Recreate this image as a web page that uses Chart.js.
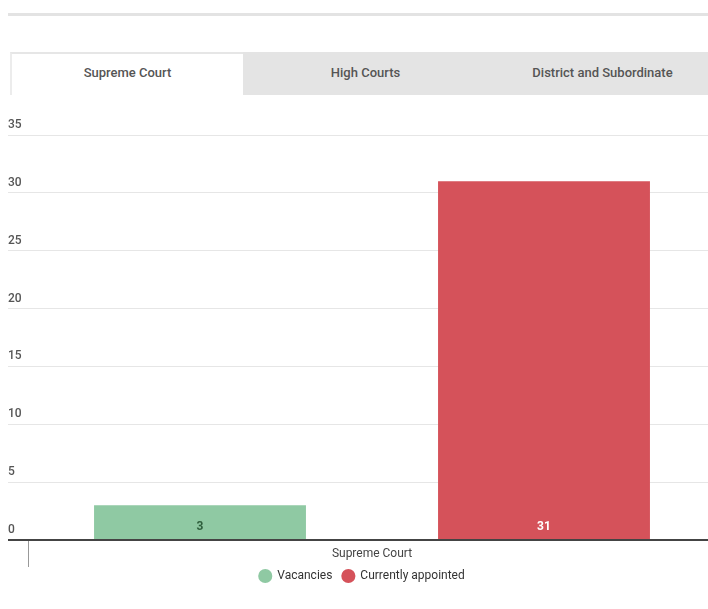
<!DOCTYPE html>
<html>
<head>
<meta charset="utf-8">
<title>Judges: vacancies and appointments</title>
<script src="https://cdn.jsdelivr.net/npm/chart.js@4.4.1/dist/chart.umd.min.js"></script>
<style>
    html, body { margin: 0; padding: 0; background: #fff; overflow: hidden; }
    body { width: 708px; height: 609px; position: relative; font-family: Roboto, "Noto Sans", sans-serif; }
    .rule { position: absolute; top: 13px; left: 8px; right: 0; height: 3px; background: #e3e3e3; }
    .tabs { position: absolute; top: 52px; left: 10px; display: flex; }
    .tab { width: 237px; height: 43px; line-height: 41px; box-sizing: border-box; text-align: center;
           font-size: 13px; font-weight: 500; color: #555; background: #e4e4e4; }
    .tab.active { background: #fff; border-top: 2px solid #e6e6e6; border-left: 2px solid #ececec;
                  width: 233px; line-height: 37px; }
    .tab.second { width: 241px; padding-left: 4px; }
    #chartBox { position: absolute; top: 100px; left: 0; width: 716px; height: 509px; }
</style>
</head>
<body>
<div class="rule"></div>
<div class="tabs">
    <div class="tab active">Supreme Court</div>
    <div class="tab second">High Courts</div>
    <div class="tab">District and Subordinate</div>
</div>
<div id="chartBox"><canvas id="myChart" width="716" height="509"></canvas></div>

<script>
// courts shown on the x axis
var categories = ['Supreme Court'];
// judge posts, per court
var vacancies = [3];
var appointed = [31];
// y axis
var yTicks = [0, 5, 10, 15, 20, 25, 30, 35];

var CourtChart = function () {

    //********************************************************************************//
    //                            Global variables
    //********************************************************************************//
    var $chart = document.getElementById('myChart');
    var chart;
    var labelColors = ['#2f5f3d', '#ffffff'];

    // writes each bar's value just above its base
    var barValues = {
        id: 'barValues',
        afterDatasetsDraw: function (c) {
            var ctx = c.ctx;
            ctx.save();
            ctx.font = 'bold 12px Roboto, sans-serif';
            ctx.textAlign = 'center';
            ctx.textBaseline = 'middle';
            c.data.datasets.forEach(function (ds, i) {
                c.getDatasetMeta(i).data.forEach(function (bar, j) {
                    ctx.fillStyle = labelColors[i];
                    ctx.fillText(ds.data[j], bar.x, bar.base - 12);
                });
            });
            ctx.restore();
        }
    };

    const data = {
        labels: categories,
        datasets: [{
            label: 'Vacancies',
            data: vacancies,
            backgroundColor: '#8fc9a3',
            borderWidth: 0,
            barPercentage: 0.616,
            categoryPercentage: 1.0
        },
            {
                label: 'Currently appointed',
                data: appointed,
                backgroundColor: '#d5525a',
                borderWidth: 0,
                barPercentage: 0.616,
                categoryPercentage: 1.0
            }
        ]
    };
    const config = {
        type: 'bar',
        data: data,
        plugins: [barValues],
        options: {
            responsive: false,
            animation: false,
            layout: { padding: { left: 8, top: 35, right: 0, bottom: 17 } },
            plugins: {
                tooltip: { enabled: false },
                legend: {
                    position: 'bottom',
                    labels: {
                        usePointStyle: true,
                        pointStyle: 'circle',
                        boxHeight: 10,
                        padding: 10,
                        color: '#333',
                        font: { family: 'Roboto, sans-serif', size: 12 }
                    }
                }
            },
            scales: {
                x: {
                    afterFit: function (s) { s.height = 20; },
                    border: { display: false },
                    grid: {
                        offset: true,
                        drawOnChartArea: false,
                        tickLength: 27,
                        color: '#999',
                        lineWidth: 1
                    },
                    ticks: {
                        padding: -20,
                        color: '#444',
                        font: { family: 'Roboto, sans-serif', size: 12 }
                    }
                },
                y: {
                    min: yTicks[0],
                    max: yTicks[yTicks.length - 1],
                    afterFit: function (s) { s.width = 20; },
                    afterBuildTicks: function (s) {
                        s.ticks = yTicks.map(function (v) { return { value: v }; });
                    },
                    border: { display: false },
                    grid: {
                        tickLength: 20,
                        color: function (c) { return c.tick && c.tick.value === 0 ? '#444' : '#e6e6e6'; },
                        lineWidth: function (c) { return c.tick && c.tick.value === 0 ? 2 : 1; }
                    },
                    ticks: {
                        crossAlign: 'far',
                        padding: 0,
                        labelOffset: -10,
                        color: '#555',
                        font: { family: 'Roboto, sans-serif', size: 12, weight: '500' }
                    }
                }
            }
        }
    };


    //********************************************************************************//
    //                            Initializations
    //********************************************************************************//
    var initChart = function () {
        chart = new Chart($chart, config);
    }

    return {
        init: function () {
            initChart();
        },
    };
}();

window.addEventListener('load', function () {
    CourtChart.init();
});
</script>
</body>
</html>
